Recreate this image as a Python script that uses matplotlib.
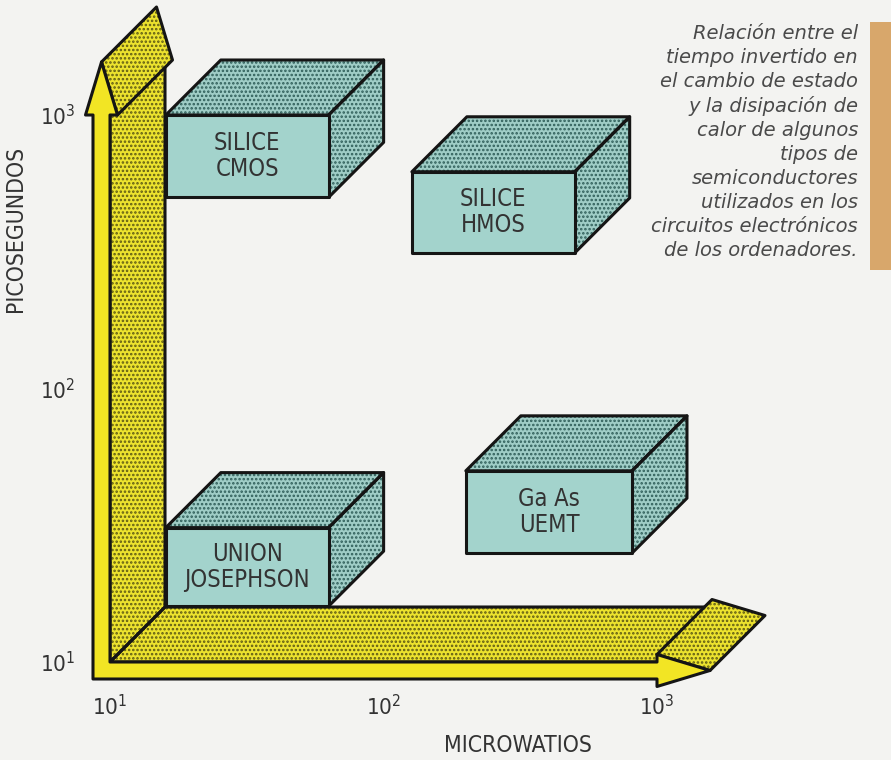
import matplotlib
matplotlib.use("Agg")
import matplotlib.pyplot as plt
from matplotlib.patches import Polygon, Rectangle
from matplotlib.transforms import IdentityTransform
from matplotlib.ticker import NullLocator

# ---------------- data ----------------
tech_names = ["SILICE\nCMOS", "SILICE\nHMOS", "Ga As\nUEMT", "UNION\nJOSEPHSON"]
power_lo = [16, 127, 200, 16]      # microwatios (left edge of block)
power_hi = [63, 500, 810, 63]      # microwatios (right edge of block)
time_lo = [500, 313, 25, 16]       # picosegundos (bottom of block)
time_hi = [1000, 620, 50, 31]      # picosegundos (top of block)
tick_vals = [10, 100, 1000]
tick_labels = [r"$\mathdefault{10^{1}}$", r"$\mathdefault{10^{2}}$", r"$\mathdefault{10^{3}}$"]
x_title = "MICROWATIOS"
y_title = "PICOSEGUNDOS"
caption_lines = ["Relación entre el", "tiempo invertido en", "el cambio de estado",
                 "y la disipación de", "calor de algunos", "tipos de",
                 "semiconductores", "utilizados en los", "circuitos electrónicos",
                 "de los ordenadores."]

# ---------------- style ----------------
W, H, DPI = 891, 760, 100
BG = "#f3f3f1"
YEL_FRONT = "#f2e524"
YEL_DOT_BASE = "#ece22e"
YEL_DOT = "#5e5a14"
TEAL_FRONT = "#a3d3cc"
TEAL_DOT_BASE = "#9fcdc6"
TEAL_DOT = "#2f5e59"
TXT = "#333333"
EDGE = "#151515"
LW = 2.2
DEPTH = (55, 55)          # oblique depth in pixels
THICK, HEAD_HW, HEAD_L = 17, 16, 53

plt.rcParams["font.family"] = ["DejaVu Sans"]
plt.rcParams["hatch.linewidth"] = 1.2
plt.rcParams["mathtext.fontset"] = "dejavusans"

LIGHT = dict(fontstretch="condensed", fontweight="light")

fig = plt.figure(figsize=(W / DPI, H / DPI), dpi=DPI, facecolor=BG)
ox, oy, ex, ey = 110, 662, 657, 115   # axes frame in pixels (from top)
ax = fig.add_axes([ox / W, 1 - oy / H, (ex - ox) / W, (oy - ey) / H])
ax.set_xscale("log")
ax.set_yscale("log")
ax.set_xlim(10, 1000)
ax.set_ylim(10, 1000)
ax.patch.set_visible(False)
for s in ax.spines.values():
    s.set_visible(False)
ax.set_xticks(tick_vals, tick_labels)
ax.set_yticks(tick_vals, tick_labels)
ax.xaxis.set_minor_locator(NullLocator())
ax.yaxis.set_minor_locator(NullLocator())
ax.tick_params(length=0, labelsize=16, labelcolor=TXT)
ax.tick_params(axis="x", pad=23)
ax.tick_params(axis="y", pad=25)
for lab in ax.get_xticklabels() + ax.get_yticklabels():
    lab.set_fontstretch("condensed")
    lab.set_fontweight("light")

ax.set_xlabel(x_title, fontsize=16.5, color=TXT, **LIGHT)
ax.xaxis.set_label_coords((518 - ox) / (ex - ox), (oy - 734) / (oy - ey))
ax.set_ylabel(y_title, fontsize=16.5, color=TXT, **LIGHT)
ax.yaxis.set_label_coords((27 - ox) / (ex - ox), (oy - 229) / (oy - ey))


def P(x, y):
    return ax.transData.transform((x, y))


def add_face(verts, base, dot, hatch="....", z=2):
    fig.add_artist(Polygon(verts, closed=True, transform=IdentityTransform(),
                           facecolor=base, edgecolor=dot, hatch=hatch, lw=0, zorder=z))
    fig.add_artist(Polygon(verts, closed=True, transform=IdentityTransform(),
                           fill=False, edgecolor=EDGE, lw=LW, joinstyle="round", zorder=z + 0.5))


def add_plain(verts, color, z=2):
    fig.add_artist(Polygon(verts, closed=True, transform=IdentityTransform(),
                           facecolor=color, edgecolor=EDGE, lw=LW, joinstyle="round", zorder=z))


dx, dy = DEPTH
O = P(tick_vals[0], tick_vals[0])
XE = P(tick_vals[-1], tick_vals[0])
YE = P(tick_vals[0], tick_vals[-1])
cx = O[0] - THICK / 2
cy = O[1] - THICK / 2

# ---- L-shaped 3D axis arrow ----
vshaft = [(O[0], O[1]), (O[0] + dx, O[1] + dy), (O[0] + dx, YE[1] + dy), (O[0], YE[1])]
hshaft = [(O[0], O[1]), (XE[0], O[1]), (XE[0] + dx, O[1] + dy), (O[0] + dx, O[1] + dy)]
vhead = [(cx, YE[1] + HEAD_L), (cx + HEAD_HW, YE[1]),
         (cx + HEAD_HW + dx, YE[1] + dy), (cx + dx, YE[1] + HEAD_L + dy)]
hhead = [(XE[0], cy + HEAD_HW), (XE[0] + HEAD_L, cy),
         (XE[0] + HEAD_L + dx, cy + dy), (XE[0] + dx, cy + HEAD_HW + dy)]
front = [(O[0] - THICK, O[1] - THICK), (XE[0], O[1] - THICK), (XE[0], cy - HEAD_HW),
         (XE[0] + HEAD_L, cy), (XE[0], cy + HEAD_HW), (XE[0], O[1]), (O[0], O[1]),
         (O[0], YE[1]), (cx + HEAD_HW, YE[1]), (cx, YE[1] + HEAD_L),
         (cx - HEAD_HW, YE[1]), (O[0] - THICK, YE[1])]

add_face(vshaft, YEL_DOT_BASE, YEL_DOT, z=2)
add_face(hshaft, YEL_DOT_BASE, YEL_DOT, z=2)
add_face(vhead, YEL_DOT_BASE, YEL_DOT, z=3)
add_face(hhead, YEL_DOT_BASE, YEL_DOT, z=3)
add_plain(front, YEL_FRONT, z=4)

# ---- blocks ----
for name, x0, x1, y0, y1 in zip(tech_names, power_lo, power_hi, time_lo, time_hi):
    a = P(x0, y0)
    b = P(x1, y1)
    top = [(a[0], b[1]), (b[0], b[1]), (b[0] + dx, b[1] + dy), (a[0] + dx, b[1] + dy)]
    right = [(b[0], b[1]), (b[0], a[1]), (b[0] + dx, a[1] + dy), (b[0] + dx, b[1] + dy)]
    frontr = [(a[0], a[1]), (b[0], a[1]), (b[0], b[1]), (a[0], b[1])]
    add_face(top, TEAL_DOT_BASE, TEAL_DOT, z=5)
    add_face(right, TEAL_DOT_BASE, TEAL_DOT, z=5)
    add_plain(frontr, TEAL_FRONT, z=6)
    fig.text((a[0] + b[0]) / 2 / W, (a[1] + b[1]) / 2 / H, name, ha="center", va="center",
             fontsize=17, color=TXT, linespacing=1.1, zorder=7, **LIGHT)

# ---- caption ----
fig.text(858 / W, 1 - 24 / H, "\n".join(caption_lines), ha="right", va="top",
         multialignment="right", fontsize=14, fontstyle="italic", color="#4a4a4a",
         linespacing=1.33)

# ---- tan page strip ----
fig.add_artist(Rectangle((870 / W, 1 - 270 / H), 21 / W, 248 / H, transform=fig.transFigure,
                         facecolor="#d8a76b", edgecolor="none"))

fig.savefig("out.png", dpi=DPI, facecolor=BG)
